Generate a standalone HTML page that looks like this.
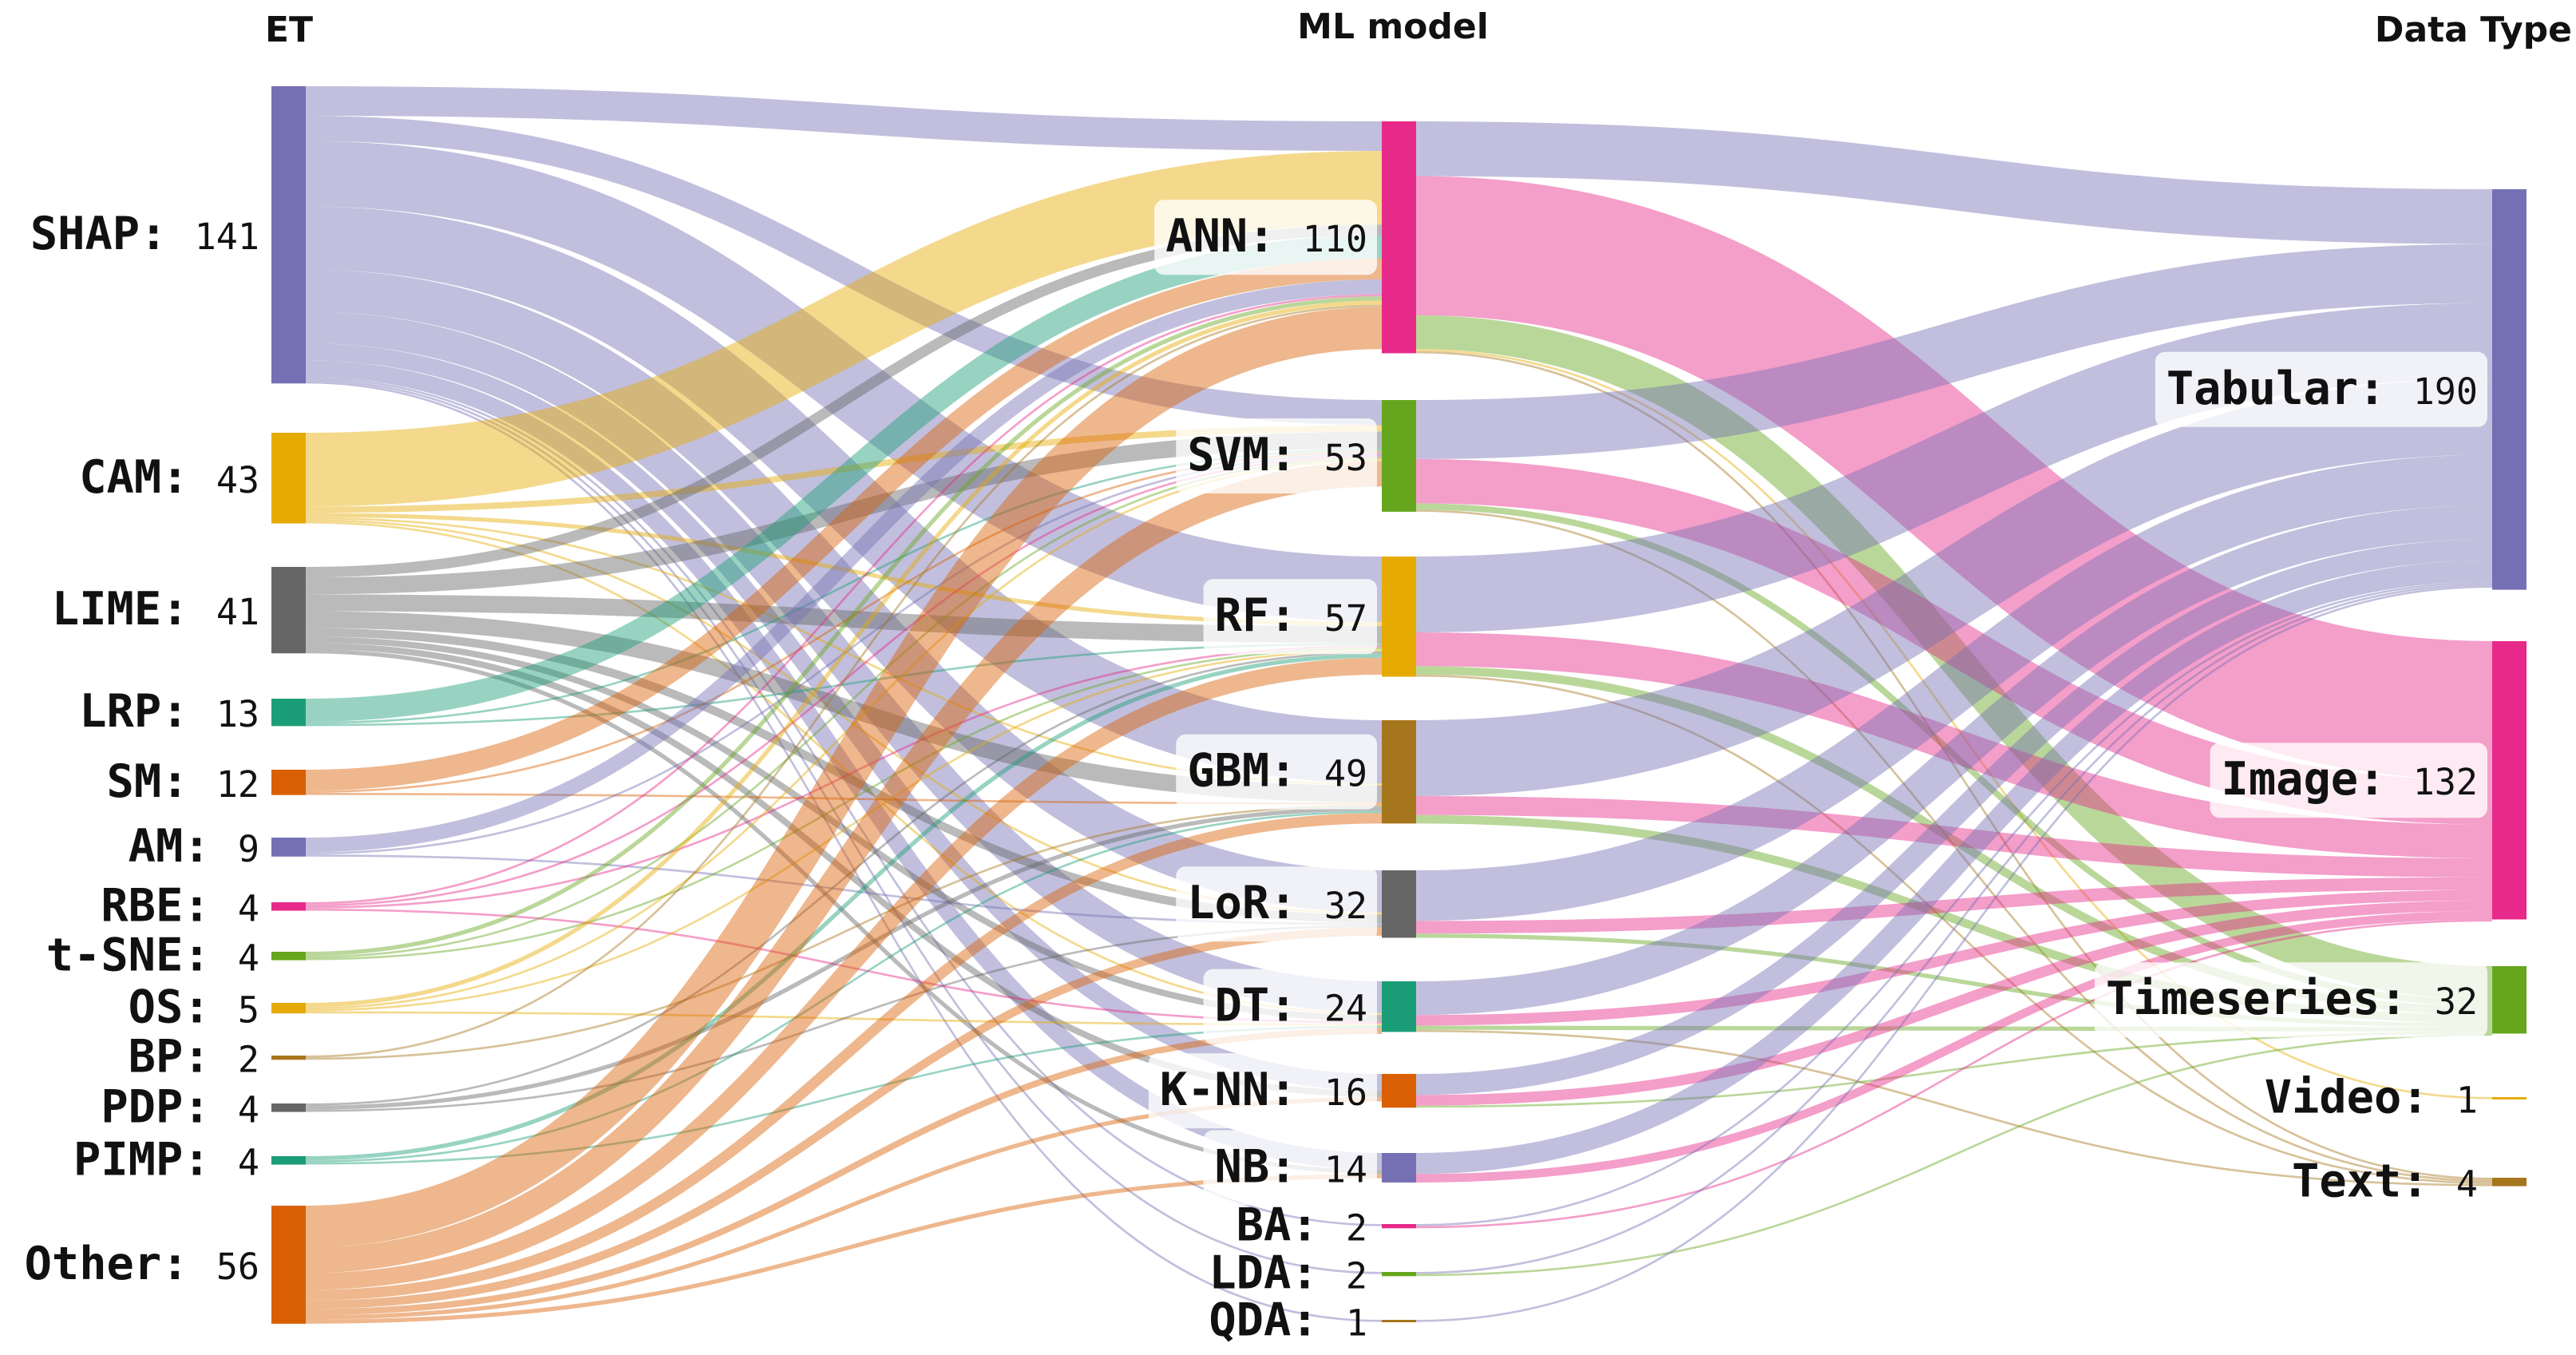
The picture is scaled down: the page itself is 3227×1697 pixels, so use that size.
<!DOCTYPE html>
<html><head><meta charset="utf-8">
<style>
html,body{margin:0;padding:0;background:#fff;}
svg{display:block;}
.hdr{font-family:"DejaVu Sans","Liberation Sans",sans-serif;font-weight:bold;font-size:44px;fill:#111;}
.nm{font-family:"DejaVu Sans Mono","Liberation Mono",monospace;font-weight:bold;font-size:57px;fill:#111;}
.nv{font-family:"DejaVu Sans Mono","Liberation Mono",monospace;font-size:45px;fill:#111;}
</style></head>
<body>
<svg id="chart" width="3227" height="1697" viewBox="0 0 3227 1697">
<text class="hdr" x="362" y="52" text-anchor="middle">ET</text>
<text class="hdr" x="1745" y="48" text-anchor="middle">ML model</text>
<text class="hdr" x="3222" y="52" text-anchor="end">Data Type</text>
<g id="links"></g>
<g id="nodes"></g>
<g id="labels"></g>
</svg>
<script>
// ---- data ----
const etNames = ["SHAP","CAM","LIME","LRP","SM","AM","RBE","t-SNE","OS","BP","PDP","PIMP","Other"];
const etValues = [141,43,41,13,12,9,4,4,5,2,4,4,56];
const mlNames = ["ANN","SVM","RF","GBM","LoR","DT","K-NN","NB","BA","LDA","QDA"];
const mlValues = [110,53,57,49,32,24,16,14,2,2,1];
const dtNames = ["Tabular","Image","Timeseries","Video","Text"];
const dtValues = [190,132,32,1,4];
// ET -> ML flows (rows: ET, cols: ML)
const flowSHAP  = [14,12,31,30,20,15,8,8,1,1,1];
const flowCAM   = [35,3,2,1,1,1,0,0,0,0,0];
const flowLIME  = [5,8,8,8,4,3,3,2,0,0,0];
const flowLRP   = [11,1,1,0,0,0,0,0,0,0,0];
const flowSM    = [10,1,0,1,0,0,0,0,0,0,0];
const flowAM    = [7,1,0,0,1,0,0,0,0,0,0];
const flowRBE   = [1,1,1,0,0,1,0,0,0,0,0];
const flowTSNE  = [2,1,1,0,0,0,0,0,0,0,0];
const flowOS    = [2,1,1,0,0,1,0,0,0,0,0];
const flowBP    = [1,0,0,1,0,0,0,0,0,0,0];
const flowPDP   = [0,0,1,2,1,0,0,0,0,0,0];
const flowPIMP  = [0,0,2,1,0,1,0,0,0,0,0];
const flowOther = [20,12,8,5,4,3,2,2,0,0,0];
// ML -> Data type flows (rows: ML, cols: data type)
const flowANN  = [26,66,16,1,1];
const flowSVM  = [28,21,3,0,1];
const flowRF   = [36,16,4,0,1];
const flowGBM  = [36,9,4,0,0];
const flowLoR  = [24,6,2,0,0];
const flowDT   = [16,5,2,0,1];
const flowKNN  = [10,5,1,0,0];
const flowNB   = [10,4,0,0,0];
const flowBA   = [1,1,0,0,0];
const flowLDA  = [1,0,1,0,0];
const flowQDA  = [1,0,0,0,0];

// ---- layout ----
const K = 2.64;
const etTop = [108,542,710,875,964,1049,1130,1192,1256,1322,1382,1448,1510];
const mlTop = [152,501,697,902,1090,1229,1345,1444,1533,1593,1653];
const dtTop = [237,803,1210,1374,1475];
const colX = [340,1731,3122], NW = 43;
const etCols = ["#7570b3","#e6ab02","#666666","#1b9e77","#d95f02","#7570b3","#e7298a","#66a61e","#e6ab02","#a6761d","#666666","#1b9e77","#d95f02"];
const mlCols = ["#e7298a","#66a61e","#e6ab02","#a6761d","#666666","#1b9e77","#d95f02","#7570b3","#e7298a","#66a61e","#a6761d"];
const dtCols = ["#7570b3","#e7298a","#66a61e","#e6ab02","#a6761d"];
const flows1 = [flowSHAP,flowCAM,flowLIME,flowLRP,flowSM,flowAM,flowRBE,flowTSNE,flowOS,flowBP,flowPDP,flowPIMP,flowOther];
const flows2 = [flowANN,flowSVM,flowRF,flowGBM,flowLoR,flowDT,flowKNN,flowNB,flowBA,flowLDA,flowQDA];
const NS="http://www.w3.org/2000/svg";
const gL=document.getElementById('links'), gN=document.getElementById('nodes'), gT=document.getElementById('labels');

function drawLinks(flows, sTops, tTops, x0, x1, colorFn, prefix){
  const sOff = sTops.slice(), tOff = tTops.slice();
  const nS = flows.length, nT = flows[0].length;
  const ys = [];
  for(let i=0;i<nS;i++){ ys[i]=[]; for(let j=0;j<nT;j++){ const w=flows[i][j]*K; ys[i][j]={s:sOff[i]+w/2}; sOff[i]+=w; } }
  for(let j=0;j<nT;j++){ for(let i=0;i<nS;i++){ const w=flows[i][j]*K; ys[i][j].t=tOff[j]+w/2; tOff[j]+=w; } }
  const xm=(x0+x1)/2;
  for(let i=0;i<nS;i++) for(let j=0;j<nT;j++){
    const v=flows[i][j]; if(!v) continue;
    const p=document.createElementNS(NS,'path');
    const a=ys[i][j].s, b=ys[i][j].t;
    p.setAttribute('d',`M${x0},${a} C${xm},${a} ${xm},${b} ${x1},${b}`);
    p.setAttribute('fill','none');
    p.setAttribute('stroke',colorFn(i,j));
    p.setAttribute('stroke-opacity','0.45');
    p.setAttribute('stroke-width',v*K);
    
    
    gL.appendChild(p);
  }
}
drawLinks(flows1, etTop, mlTop, colX[0]+NW, colX[1], (i,j)=>etCols[i], 'et-ml');
drawLinks(flows2, mlTop, dtTop, colX[1]+NW, colX[2], (i,j)=>dtCols[j], 'ml-datatype');

function drawNodes(names, vals, tops, x, cols, side){
  for(let i=0;i<names.length;i++){
    const h=Math.max(vals[i]*K,3);
    const r=document.createElementNS(NS,'rect');
    r.setAttribute('x',x); r.setAttribute('y',tops[i]); r.setAttribute('width',NW); r.setAttribute('height',h);
    r.setAttribute('fill',cols[i]);
    
    
    gN.appendChild(r);
    const cy=tops[i]+h/2;
    const g=document.createElementNS(NS,'g');
    
    
    gT.appendChild(g);
    const t=document.createElementNS(NS,'text');
    const right = side==='left' ? x-15 : x-18;
    t.setAttribute('x',right); t.setAttribute('y',cy+18); t.setAttribute('text-anchor','end');
    const s1=document.createElementNS(NS,'tspan'); s1.setAttribute('class','nm'); s1.textContent=names[i]+': ';
    const s2=document.createElementNS(NS,'tspan'); s2.setAttribute('class','nv'); s2.textContent=vals[i];
    t.appendChild(s1); t.appendChild(s2);
    g.appendChild(t);
    if(side!=='left' && vals[i]>=10){
      const bb=t.getBBox();
      const bg=document.createElementNS(NS,'rect');
      bg.setAttribute('x',bb.x-14); bg.setAttribute('y',cy-47); bg.setAttribute('width',bb.width+26); bg.setAttribute('height',94);
      bg.setAttribute('rx',12); bg.setAttribute('fill','#ffffff'); bg.setAttribute('fill-opacity','0.78');
      
      
      g.insertBefore(bg,t);
    }
  }
}
drawNodes(etNames, etValues, etTop, colX[0], etCols, 'left');
drawNodes(mlNames, mlValues, mlTop, colX[1], mlCols, 'mid');
drawNodes(dtNames, dtValues, dtTop, colX[2], dtCols, 'right');
</script>
</body></html>
